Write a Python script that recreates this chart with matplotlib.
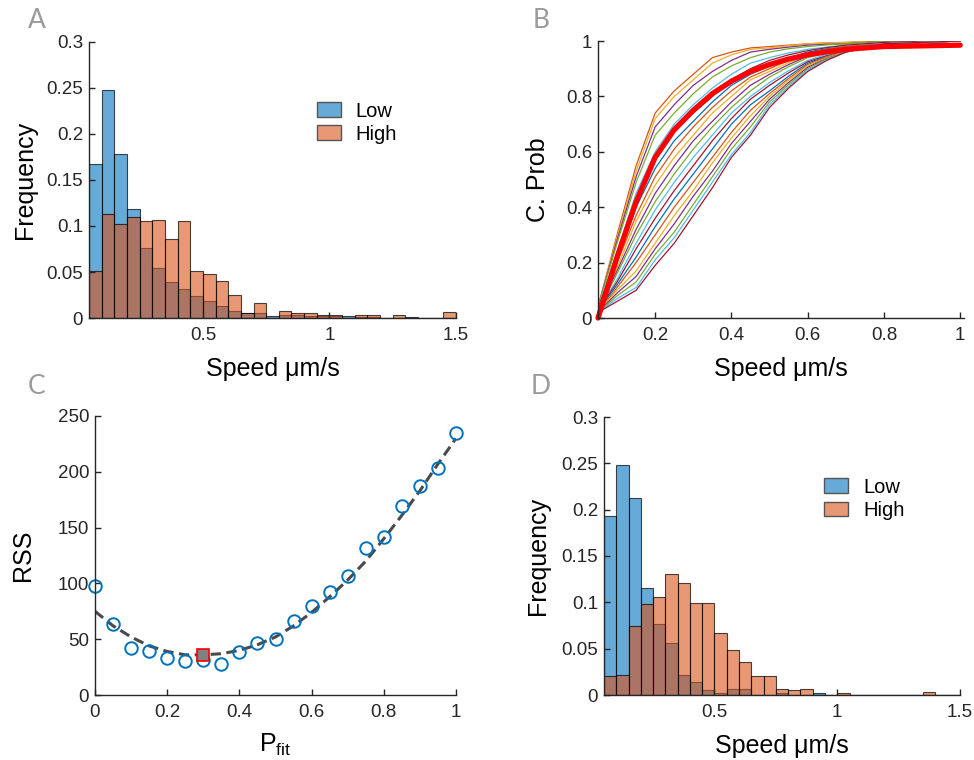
import numpy as np
import matplotlib.pyplot as plt
from matplotlib.patches import Patch

plt.rcParams['font.family'] = ['Liberation Sans', 'DejaVu Sans']
plt.rcParams['mathtext.fontset'] = 'custom'
plt.rcParams['mathtext.rm'] = 'Liberation Sans'
plt.rcParams['mathtext.it'] = 'Liberation Sans:italic'

# ---- data -------------------------------------------------------------
bin_start = 0.05
bin_w = 0.05
n_bins = 29

low_A = [0.167, 0.248, 0.178, 0.118, 0.076, 0.054, 0.039, 0.031, 0.024, 0.018,
         0.013, 0.008, 0.005, 0.005, 0.002, 0.003, 0.003, 0.002, 0.002, 0.002,
         0.002, 0.001, 0.001, 0, 0, 0.001, 0, 0, 0]
high_A = [0.051, 0.113, 0.102, 0.110, 0.105, 0.107, 0.086, 0.105, 0.051, 0.048,
          0.040, 0.025, 0.005, 0.016, 0, 0.008, 0.0055, 0.0055, 0.003, 0.003,
          0, 0.003, 0.003, 0, 0.003, 0, 0, 0, 0.006]

low_D = [0.193, 0.248, 0.213, 0.116, 0.077, 0.056, 0.022, 0.014, 0.005, 0.002,
         0.006, 0.007, 0, 0, 0.0025, 0, 0, 0.002, 0, 0,
         0, 0, 0, 0, 0, 0, 0, 0, 0]
high_D = [0.021, 0.022, 0.075, 0.098, 0.106, 0.131, 0.121, 0.099, 0.099, 0.067,
          0.049, 0.036, 0.021, 0.021, 0.007, 0.005, 0.007, 0, 0, 0.002,
          0, 0, 0, 0, 0, 0, 0.003, 0, 0]

# cumulative probability curves (panel B), sampled at cdf_x
cdf_x = [0.05, 0.1, 0.15, 0.2, 0.25, 0.3, 0.35, 0.4, 0.45, 0.5, 0.55, 0.6, 0.65,
         0.7, 0.8, 1.0]
cdf_curves = [
    [.04, .30, .55, .74, .82, .88, .94, .96, .975, .98, .985, .99, .993, .995, 1, 1],
    [.04, .29, .53, .72, .80, .86, .92, .95, .97, .975, .983, .99, .993, .995, 1, 1],
    [.04, .28, .51, .69, .77, .84, .89, .93, .96, .97, .978, .985, .988, .99, 1, 1],
    [.04, .27, .49, .66, .74, .81, .87, .91, .94, .96, .972, .98, .986, .99, 1, 1],
    [.035, .24, .45, .60, .70, .77, .83, .88, .92, .94, .957, .97, .978, .985, .995, 1],
    [.035, .22, .42, .57, .67, .74, .80, .86, .90, .93, .95, .965, .976, .985, .995, 1],
    [.03, .21, .40, .54, .64, .71, .78, .84, .88, .91, .938, .96, .972, .98, .99, 1],
    [.03, .20, .37, .51, .61, .69, .76, .82, .87, .90, .93, .955, .97, .98, .99, 1],
    [.03, .18, .35, .48, .58, .66, .74, .80, .86, .89, .922, .95, .965, .975, .99, 1],
    [.03, .17, .32, .45, .55, .64, .71, .78, .84, .88, .915, .945, .962, .975, .99, 1],
    [.025, .16, .30, .42, .52, .61, .69, .76, .82, .87, .907, .94, .957, .97, .99, 1],
    [.025, .14, .27, .39, .49, .58, .66, .74, .80, .85, .893, .93, .952, .97, .99, 1],
    [.025, .13, .25, .36, .46, .55, .64, .72, .79, .84, .885, .925, .947, .965, .99, 1],
    [.025, .12, .22, .33, .43, .52, .61, .70, .77, .82, .873, .92, .945, .965, .99, 1],
    [.02, .11, .20, .30, .40, .49, .58, .67, .75, .81, .865, .915, .943, .965, .99, 1],
    [.02, .10, .17, .27, .37, .46, .56, .65, .73, .80, .858, .91, .94, .96, .99, 1],
    [.02, .09, .15, .25, .34, .44, .53, .63, .71, .79, .85, .905, .937, .96, .99, 1],
    [.02, .08, .13, .23, .31, .41, .51, .61, .69, .78, .843, .90, .935, .96, .99, 1],
    [.02, .07, .11, .21, .29, .39, .49, .59, .67, .77, .836, .895, .932, .96, .99, 1],
    [.02, .06, .10, .19, .27, .37, .47, .58, .66, .76, .83, .89, .93, .96, .99, 1],
]
cdf_mean = [0.0, .22, .42, .58, .68, .75, .81, .855, .89, .915, .935, .95, .961,
            .97, .98, .985]

p_fit = [0, 0.05, 0.1, 0.15, 0.2, 0.25, 0.3, 0.35, 0.4, 0.45, 0.5,
         0.55, 0.6, 0.65, 0.7, 0.75, 0.8, 0.85, 0.9, 0.95, 1.0]
rss = [97.7, 63.3, 42.4, 39.4, 33.2, 30.5, 31.4, 28.1, 38.5, 46.6, 50.5,
       66.6, 79.7, 92.0, 106.3, 131.7, 141.3, 169.7, 187.3, 203.4, 234.5]
rss_fit = [75, 62, 52, 44, 39, 36, 36, 37, 40, 45, 52,
           62, 74, 88, 103, 120, 140, 161, 183, 207, 230]
best_p, best_rss = 0.3, 36

# ---- styling -----------------------------------------------------------
ml_colors = ['#0072BD', '#D95319', '#EDB120', '#7E2F8E', '#77AC30', '#4DBEEE', '#A2142F']
c_low = (0.0, 0.447, 0.741, 0.6)
c_high = (0.851, 0.325, 0.098, 0.6)
ink = '#262626'

W, H = 974, 760
fig = plt.figure(figsize=(W / 100, H / 100), dpi=100)


def px_axes(l, t, r, b):
    return fig.add_axes([l / W, 1 - b / H, (r - l) / W, (b - t) / H])


def style(ax):
    for s in ['top', 'right']:
        ax.spines[s].set_visible(False)
    for s in ['left', 'bottom']:
        ax.spines[s].set_color(ink)
        ax.spines[s].set_linewidth(1.0)
    ax.tick_params(direction='in', length=4, width=1, color=ink,
                   labelcolor=ink, labelsize=13.5)
    ax.tick_params(axis='x', pad=6.5)
    ax.tick_params(axis='y', pad=4.3)


def labels(ax, xl, yl, xpos, ypos):
    ax.set_xlabel(xl, fontsize=18, color='black')
    ax.set_ylabel(yl, fontsize=18, color='black')
    ax.xaxis.set_label_coords(0.5, xpos)
    ax.yaxis.set_label_coords(ypos, 0.5)
    ax.xaxis.label.set_va('center')
    ax.yaxis.label.set_va('center')


def hist_panel(ax, low, high, leg_xy):
    left = bin_start + bin_w * np.arange(n_bins)
    ax.bar(left, low, width=bin_w, align='edge', facecolor=c_low,
           edgecolor=(0, 0, 0, 0.7), linewidth=0.8)
    ax.bar(left, high, width=bin_w, align='edge', facecolor=c_high,
           edgecolor=(0, 0, 0, 0.7), linewidth=0.8)
    ax.set_xlim(0.05, 1.5)
    ax.set_ylim(0, 0.3)
    ax.set_xticks([0.5, 1, 1.5])
    ax.set_xticklabels(['0.5', '1', '1.5'])
    ax.set_yticks([0, 0.05, 0.1, 0.15, 0.2, 0.25, 0.3])
    ax.set_yticklabels(['0', '0.05', '0.1', '0.15', '0.2', '0.25', '0.3'])
    handles = [Patch(facecolor=c_low, edgecolor='#555555', linewidth=1),
               Patch(facecolor=c_high, edgecolor='#555555', linewidth=1)]
    ax.legend(handles, ['Low', 'High'], loc='upper left', bbox_to_anchor=leg_xy,
              frameon=False, fontsize=14.5, borderpad=0, borderaxespad=0,
              handlelength=1.2, handleheight=0.75, handletextpad=0.75,
              labelspacing=0.2)
    style(ax)


# A
axA = px_axes(89, 42, 456, 318)
hist_panel(axA, low_A, high_A, (0.62, 0.784))
labels(axA, 'Speed μm/s', 'Frequency', -0.185, -0.174)

# B
axB = px_axes(598, 41, 964, 318)
for k, curve in enumerate(cdf_curves, start=1):
    axB.plot(cdf_x, curve, color=ml_colors[k % 7], lw=0.9)
axB.plot(cdf_x, cdf_mean, color='#FF0000', lw=3.8, solid_capstyle='round', clip_on=False)
axB.set_xlim(0.05, 1.01)
axB.set_ylim(0, 1)
axB.set_xticks([0.2, 0.4, 0.6, 0.8, 1.0])
axB.set_xticklabels(['0.2', '0.4', '0.6', '0.8', '1'])
axB.set_yticks([0, 0.2, 0.4, 0.6, 0.8, 1.0])
axB.set_yticklabels(['0', '0.2', '0.4', '0.6', '0.8', '1'])
style(axB)
labels(axB, 'Speed μm/s', 'C. Prob', -0.184, -0.164)

# C
axC = px_axes(95, 416, 456, 695)
axC.plot(p_fit, rss_fit, color='#4a4a4a', lw=2.2, dashes=(3.4, 1.8))
axC.plot(p_fit, rss, 'o', mfc='none', mec='#0072BD', ms=9, mew=1.4, clip_on=False)
axC.plot([best_p], [best_rss], 's', mfc='#808080', mec='#FF0000', ms=8, mew=1.2)
axC.set_xlim(0, 1)
axC.set_ylim(0, 250)
axC.set_xticks([0, 0.2, 0.4, 0.6, 0.8, 1.0])
axC.set_xticklabels(['0', '0.2', '0.4', '0.6', '0.8', '1'])
axC.set_yticks([0, 50, 100, 150, 200, 250])
style(axC)
labels(axC, r'$\mathrm{P}_{\mathrm{fit}}$', 'RSS', -0.179, -0.199)

# D
axD = px_axes(604, 417, 960, 695)
hist_panel(axD, low_D, high_D, (0.6175, 0.781))
labels(axD, 'Speed μm/s', 'Frequency', -0.183, -0.184)

# panel letters
for letter, (x, y) in zip('ABCD', [(37, 21), (541, 21), (37, 386), (541, 386)]):
    fig.text(x / W, 1 - y / H, letter, fontsize=19, color='#9a9a9a',
             ha='center', va='center', family=['Lato', 'DejaVu Sans'])

fig.savefig('out.png', dpi=100)
